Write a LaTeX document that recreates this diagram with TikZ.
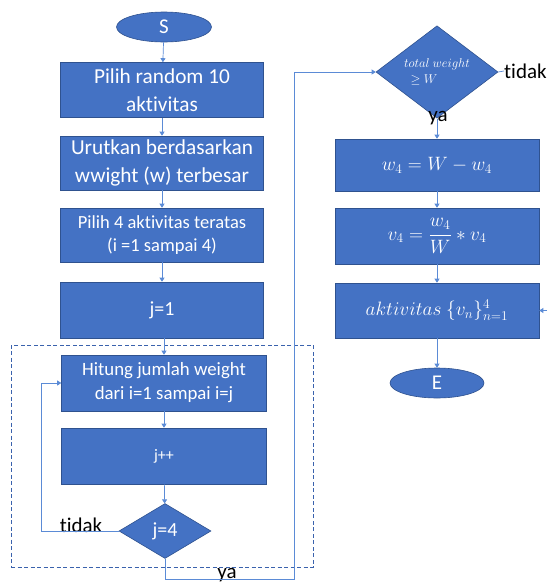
\documentclass[tikz,border=0pt]{standalone}
\usepackage{amsmath}
\usepackage{graphicx}
\usepackage{fontspec}
\setmainfont{Carlito}[Ligatures=NoCommon]
\usetikzlibrary{shapes.geometric,arrows.meta}
\definecolor{boxblue}{HTML}{4472C4}
\definecolor{edgeblue}{HTML}{2F528F}
\definecolor{dashblue}{HTML}{3A62AD}
\definecolor{lineblue}{HTML}{5B8BD6}
\newcommand{\bigmath}[1]{\scalebox{1.12}{#1}}
\begin{document}
\begin{tikzpicture}[x=1pt,y=-1pt,
  box/.style={draw=edgeblue, fill=boxblue, line width=0.6pt, text=white,
    minimum width=203pt, align=center, inner sep=0pt},
  term/.style={ellipse, draw=edgeblue, fill=boxblue, line width=0.6pt, text=white,
    minimum width=95pt, minimum height=30pt, inner sep=0pt, font=\fontsize{21}{24}\selectfont},
  dec/.style={diamond, draw=edgeblue, fill=boxblue, line width=0.6pt, text=white,
    inner sep=0pt, align=center},
  conn/.style={draw=lineblue, line width=0.7pt, -{Triangle[width=5pt,length=4pt]}},
  plain/.style={draw=lineblue, line width=0.7pt},
  lbl/.style={text=black, inner sep=0pt, font=\fontsize{21}{24}\selectfont},
  mathtext/.style={font=\fontsize{18}{22}\selectfont}
]
\useasboundingbox (0,0) rectangle (547,584);

% dashed group frame
\node[draw=dashblue, dash pattern=on 4pt off 2.5pt, line width=0.9pt, minimum width=302pt, minimum height=222pt, inner sep=0pt] (grp) at (162,456) {};

% left column
\node[term] (S) at (164,27) {S};
\node[box, minimum height=55pt, font=\fontsize{21.3}{28.5}\selectfont] (b1) at (162,90) {Pilih random 10\\aktivitas};
\node[box, minimum height=54pt, font=\fontsize{21.3}{28.5}\selectfont] (b2) at (162,163) {Urutkan berdasarkan\\wwight (w) terbesar};
\node[box, minimum height=54pt, font=\fontsize{18.5}{23}\selectfont] (b3) at (162,235) {Pilih 4 aktivitas teratas\\(i =1 sampai 4)};
\node[box, minimum height=56pt, font=\fontsize{20}{24}\selectfont] (b4) at (162,310) {j=1};
\node[box, minimum width=205pt, minimum height=56pt, font=\fontsize{18.8}{24}\selectfont] (b5) at (164,383) {Hitung jumlah weight\\dari i=1 sampai i=j};
\node[box, minimum width=205pt, minimum height=56pt, font=\fontsize{16}{20}\selectfont] (b6) at (164,456) {j++};
\node[dec, minimum width=92pt, minimum height=55pt, font=\fontsize{20}{24}\selectfont] (d1) at (165,531) {j=4};

% right column
\node[dec, minimum width=122pt, minimum height=70pt, font=\fontsize{12.5}{16}\selectfont] (d2) at (437,72) {\scalebox{1.06}{$total\ weight$}\\\scalebox{1.06}{$\geq W$}\hspace*{26pt}};
\node[box, mathtext, minimum width=204pt, minimum height=52pt] (b7) at (437,165) {\bigmath{$w_4 = W - w_4$}};
\node[box, mathtext, minimum width=204pt, minimum height=56pt] (b8) at (437,236) {\bigmath{$v_4 = \dfrac{w_4}{W} * v_4$}};
\node[box, mathtext, minimum width=204pt, minimum height=55pt] (b9) at (437,310.5) {\bigmath{$aktivitas\ \{v_n\}_{n=1}^{4}$}};
\node[term, minimum width=94pt] (E) at (437,383) {E};

% labels
\node[lbl] (tidak1) at (81,525) {tidak};
\node[lbl] (ya1) at (227,575) {ya};
\node[lbl] (ya2) at (438,118) {ya};
\node[lbl, anchor=west] (tidak2) at (504,71) {tidak};

% connectors
\draw[conn] (S) -- (b1);
\draw[conn] (b1) -- (b2);
\draw[conn] (b2) -- (b3);
\draw[conn] (b3) -- (b4);
\draw[conn] (b4.south -| b5.north) -- (b5.north);
\draw[conn] (b5) -- (b6);
\draw[conn] (b6) -- (d1);
\draw[conn] (d1.west) -- ++(-77,0) |- (b5.west);
\coordinate (yaturn) at (294,579);
\draw[conn] (d1.south) |- (yaturn) |- (d2.west);
\draw[plain] (d2.east) -- (tidak2.west);
\draw[conn] (d2.south) -- (b7.north);
\draw[conn] (b7) -- (b8);
\draw[conn] (b8) -- (b9);
\draw[conn] (b9) -- (E);
\coordinate (tin) at (547,310.5);
\draw[conn] (tin) -- (b9.east);
\end{tikzpicture}
\end{document}
